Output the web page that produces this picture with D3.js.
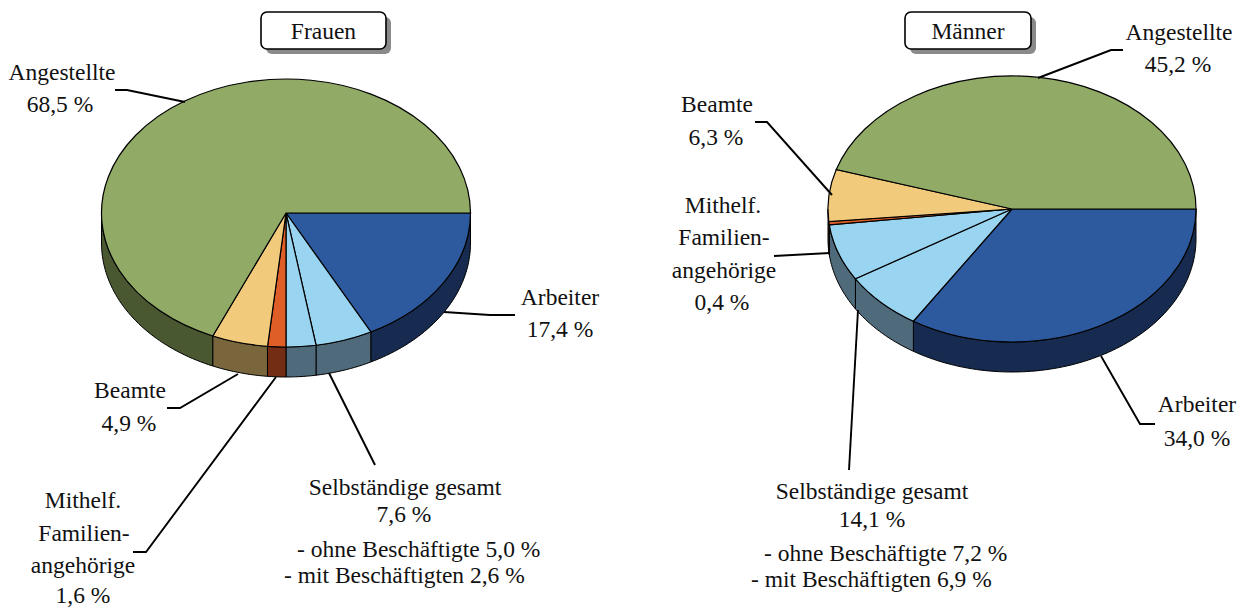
<!DOCTYPE html>
<html><head><meta charset="utf-8">
<script src="https://cdn.jsdelivr.net/npm/d3@7"></script>
<style>html,body{margin:0;padding:0;background:#fff}svg{display:block}
text{font-family:"Liberation Serif","Times New Roman",serif;font-size:23.5px;fill:#111}</style>
</head><body><svg id="c" width="1242" height="608"></svg>
<script>
const categories = ["Arbeiter","Selbständige ohne Beschäftigte","Selbständige mit Beschäftigten","Mithelf. Familienangehörige","Beamte","Angestellte"];
const frauenValues = [17.4,5.0,2.6,1.6,4.9,68.5];
const maennerValues = [34.0,7.2,6.9,0.4,6.3,45.2];
const topColors  = ["#2D5A9E","#99D4F1","#99D4F1","#DF5D27","#F2CA7B","#91AB67"];
const sideColors = ["#162B4F","#4F6A7A","#4F6A7A","#722D14","#7A663C","#4A5832"];

const frauenLabels = [
 ["Angestellte",62,80,"middle"],["68,5 %",60,112,"middle"],
 ["Arbeiter",560,305,"middle"],["17,4 %",560,337,"middle"],
 ["Beamte",130,398,"middle"],["4,9 %",129,431,"middle"],
 ["Mithelf.",83,508,"middle"],["Familien-",84,541,"middle"],["angehörige",83,573,"middle"],["1,6 %",83,602.5,"middle"],
 ["Selbständige gesamt",405,495,"middle"],["7,6 %",404,522,"middle"],
 ["- ohne Beschäftigte 5,0 %",297,557,"start"],["- mit Beschäftigten 2,6 %",284,583,"start"]
];
const maennerLabels = [
 ["Angestellte",1179,40,"middle"],["45,2 %",1178,72,"middle"],
 ["Beamte",717,112,"middle"],["6,3 %",716,145,"middle"],
 ["Mithelf.",723,213,"middle"],["Familien-",724,245,"middle"],["angehörige",724,278,"middle"],["0,4 %",722,310,"middle"],
 ["Arbeiter",1197,412,"middle"],["34,0 %",1197,446,"middle"],
 ["Selbständige gesamt",872,499,"middle"],["14,1 %",872,527,"middle"],
 ["- ohne Beschäftigte 7,2 %",764,561,"start"],["- mit Beschäftigten 6,9 %",751,587,"start"]
];
const frauenLeaders = [
 [[185,102],[127,90],[115,90]],
 [[444,312],[490,315],[515,315]],
 [[238,374],[180,408],[167,408]],
 [[276,377],[146,552],[133,552]],
 [[329,373],[375,465]]
];
const maennerLeaders = [
 [[1038,78],[1111,50],[1123,50]],
 [[832,195],[767,122],[755,122]],
 [[830,253],[774,256]],
 [[858,310],[849,470]],
 [[1101,356],[1140,424],[1155,424]]
];

const svg = d3.select("#c");
const pie = d3.pie().sort(null).startAngle(Math.PI/2).endAngle(Math.PI/2+2*Math.PI);
const lineGen = d3.line();

function drawPie(values, cx, cy, rx, ry, depth, labels, leaders, title, box){
  const x = d3.scaleLinear().domain([-1,1]).range([cx-rx,cx+rx]);
  const y = d3.scaleLinear().domain([-1,1]).range([cy-ry,cy+ry]);
  const arcs = pie(values);
  const g = svg.append("g");
  const rim = (a,d)=>[x(Math.sin(a)), y(-Math.cos(a))+d];
  // side walls (only the front half of the disc is visible)
  g.selectAll("path.side").data(arcs).join("path").attr("class","side")
    .attr("d",d=>{
      const a0=Math.max(d.startAngle,Math.PI/2), a1=Math.min(d.endAngle,3*Math.PI/2);
      if(a1<=a0) return null;
      const n=Math.max(2,Math.ceil((a1-a0)*40));
      const as=d3.range(n+1).map(i=>a0+(a1-a0)*i/n);
      return lineGen([...as.map(a=>rim(a,0)),...as.reverse().map(a=>rim(a,depth))])+"Z";
    })
    .attr("fill",d=>sideColors[d.index]).attr("stroke","#000").attr("stroke-width",1);
  // top face: unit pie stretched to the ellipse
  const arc = d3.arc().innerRadius(0).outerRadius(1);
  g.append("g").attr("transform",`translate(${cx},${cy}) scale(${rx},${ry})`)
    .selectAll("path").data(arcs).join("path")
    .attr("d",arc).attr("fill",d=>topColors[d.index])
    .attr("stroke","#000").attr("stroke-width",1.2).attr("vector-effect","non-scaling-stroke");
  // leaders
  g.selectAll("path.leader").data(leaders).join("path").attr("class","leader")
    .attr("d",d=>lineGen(d)).attr("fill","none").attr("stroke","#000").attr("stroke-width",1.9);
  // labels
  g.selectAll("text.lab").data(labels).join("text").attr("class","lab")
    .attr("x",d=>d[1]).attr("y",d=>d[2]).attr("text-anchor",d=>d[3]).text(d=>d[0]);
  // title box
  g.append("rect").attr("x",box[0]+5).attr("y",box[1]+5).attr("width",box[2]).attr("height",box[3]).attr("rx",6).attr("fill","#8a8a8a");
  g.append("rect").attr("x",box[0]).attr("y",box[1]).attr("width",box[2]).attr("height",box[3]).attr("rx",6).attr("fill","#fff").attr("stroke","#000").attr("stroke-width",1.6);
  g.append("text").attr("x",box[0]+box[2]/2).attr("y",box[1]+27).attr("text-anchor","middle").text(title);
}
drawPie(frauenValues,286,213,184.5,134,30,frauenLabels,frauenLeaders,"Frauen",[261,12,125,37]);
drawPie(maennerValues,1012,209,184,133,30,maennerLabels,maennerLeaders,"Männer",[905,12,126,37]);
</script></body></html>
